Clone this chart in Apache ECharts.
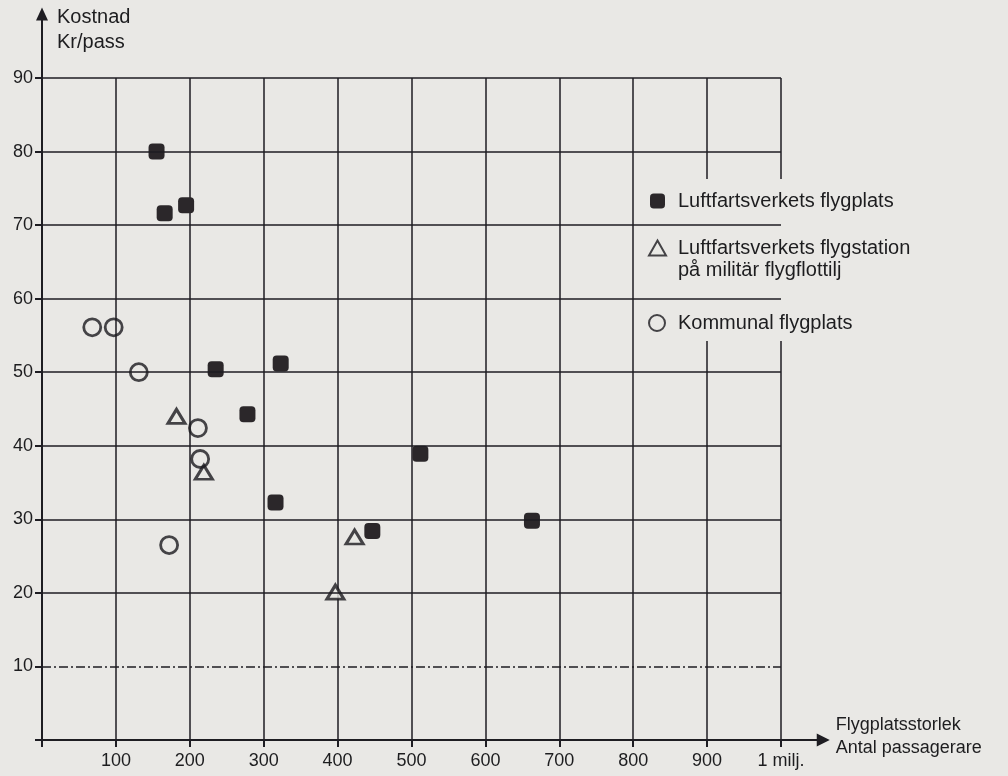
<!DOCTYPE html>
<html>
<head>
<meta charset="utf-8">
<script src="https://cdn.jsdelivr.net/npm/echarts@6/dist/echarts.min.js"></script>
<style>
  html, body { margin: 0; padding: 0; background: #e9e8e5; }
  #chart { width: 1008px; height: 776px; }
</style>
</head>
<body>
<div id="chart"></div>
<script>
// x = passagerare (tusental), y = kostnad kr/pass
const squareX = [155, 166, 195, 235, 278, 316, 323, 447, 512, 663];
const squareY = [80, 71.6, 72.7, 50.4, 44.3, 32.3, 51.2, 28.4, 38.9, 29.8];
const triangleX = [182, 219, 397, 423];
const triangleY = [44.0, 36.4, 20.1, 27.6];
const circleX = [68, 97, 131, 172, 211, 214];
const circleY = [56.1, 56.1, 50.0, 26.5, 42.4, 38.2];

const yGrid = [10, 20, 30, 40, 50, 60, 70, 80, 90];
const xLabels = { 1000: "1 milj." };

const seriesNames = [
  "Luftfartsverkets flygplats",
  "Luftfartsverkets flygstation\npå militär flygflottilj",
  "Kommunal flygplats",
];

const BG = "#e9e8e5";
const INK = "#1e1d22";
const FONT = "'Liberation Sans', Arial, sans-serif";

const zip = (xs, ys) => xs.map((x, i) => [x, ys[i]]);

const chart = echarts.init(document.getElementById("chart"));

chart.setOption({
  backgroundColor: BG,
  animation: false,
  grid: { left: 42, right: 227, top: 78, bottom: 36, outerBoundsMode: "none" },
  xAxis: {
    type: "value",
    min: 0,
    max: 1000,
    interval: 100,
    axisLine: { show: true, lineStyle: { color: INK, width: 2 } },
    axisTick: { show: true, length: 7, lineStyle: { color: INK, width: 2 } },
    axisLabel: {
      margin: 12,
      color: "#1d1d1f",
      fontFamily: FONT,
      fontSize: 18,
      formatter: (v) => (v === 0 ? "" : xLabels[v] || String(v)),
    },
    splitLine: { show: true, lineStyle: { color: INK, width: 1.5 } },
  },
  yAxis: {
    type: "value",
    min: 0,
    max: 90,
    interval: 10,
    axisLine: { show: true, lineStyle: { color: INK, width: 2 } },
    axisTick: { show: true, length: 7, lineStyle: { color: INK, width: 2 } },
    axisLabel: {
      margin: 9,
      color: "#1d1d1f",
      fontFamily: FONT,
      fontSize: 18,
      formatter: (v) => (v === 0 ? "" : String(v)),
    },
    splitLine: { show: false },
  },
  legend: [
    {
      data: [seriesNames[0]],
      left: 645,
      top: 186,
      itemWidth: 15,
      itemHeight: 15,
      textStyle: { fontFamily: FONT, fontSize: 20, color: "#1d1d1f", padding: [0, 0, 0, 8] },
    },
    {
      data: [seriesNames[1]],
      left: 643,
      top: 210,
      itemWidth: 17,
      itemHeight: 15,
      formatter: (name) => "\n" + name,
      textStyle: { fontFamily: FONT, fontSize: 20, lineHeight: 22, color: "#1d1d1f", padding: [0, 0, 0, 7] },
    },
    {
      data: [seriesNames[2]],
      left: 643,
      top: 308,
      itemWidth: 16,
      itemHeight: 16,
      textStyle: { fontFamily: FONT, fontSize: 20, color: "#1d1d1f", padding: [0, 0, 0, 8] },
    },
  ],
  series: [
    {
      name: seriesNames[0],
      type: "scatter",
      symbol: "roundRect",
      symbolSize: 16,
      itemStyle: { color: "#2b272a", opacity: 1 },
      emphasis: { disabled: true },
      data: zip(squareX, squareY),
      markLine: {
        silent: true,
        symbol: "none",
        animation: false,
        label: { show: false },
        data: yGrid.map((v) => ({
          yAxis: v,
          lineStyle: {
            color: INK,
            width: 1.5,
            type: v === 10 ? [9, 3, 2, 3] : "solid",
          },
        })),
      },
    },
    {
      name: seriesNames[1],
      type: "scatter",
      symbol: "triangle",
      symbolSize: [17, 14],
      itemStyle: { color: BG, borderColor: "#1a191e", borderWidth: 3 },
      emphasis: { disabled: true },
      data: zip(triangleX, triangleY),
    },
    {
      name: seriesNames[2],
      type: "scatter",
      symbol: "circle",
      symbolSize: 17,
      itemStyle: { color: "rgba(0,0,0,0)", borderColor: "#1a191e", borderWidth: 2.8 },
      emphasis: { disabled: true },
      data: zip(circleX, circleY),
    },
  ],
});

// axis arrows, axis titles and the blank patch behind the legend
const origin = chart.convertToPixel({ gridIndex: 0 }, [0, 0]);
const axisX = origin[0];
const axisY = origin[1];
const topY = chart.convertToPixel({ yAxisIndex: 0 }, 90);
const endX = chart.convertToPixel({ xAxisIndex: 0 }, 1000);
const tipY = chart.convertToPixel({ yAxisIndex: 0 }, 99.6);
const tipX = chart.convertToPixel({ xAxisIndex: 0 }, 1066);

chart.setOption({
  graphic: [
    {
      type: "rect",
      z: 3,
      shape: { x: 672, y: 179, width: 140, height: 162 },
      style: { fill: BG },
    },
    {
      type: "line",
      z: 3,
      shape: { x1: axisX, y1: topY, x2: axisX, y2: tipY + 10 },
      style: { stroke: INK, lineWidth: 2 },
    },
    {
      type: "polygon",
      z: 3,
      shape: { points: [[axisX, tipY], [axisX - 6, tipY + 13], [axisX + 6, tipY + 13]] },
      style: { fill: INK },
    },
    {
      type: "line",
      z: 3,
      shape: { x1: endX, y1: axisY, x2: tipX - 10, y2: axisY },
      style: { stroke: INK, lineWidth: 2 },
    },
    {
      type: "polygon",
      z: 3,
      shape: { points: [[tipX, axisY], [tipX - 13, axisY - 6.5], [tipX - 13, axisY + 6.5]] },
      style: { fill: INK },
    },
    {
      type: "text",
      z: 3,
      style: {
        x: axisX + 15,
        y: 5,
        text: "Kostnad\nKr/pass",
        font: "20px " + FONT,
        lineHeight: 25,
        fill: "#1d1d1f",
        verticalAlign: "top",
      },
    },
    {
      type: "text",
      z: 3,
      style: {
        x: tipX + 6,
        y: 714,
        text: "Flygplatsstorlek\nAntal passagerare",
        font: "18px " + FONT,
        lineHeight: 23,
        fill: "#1d1d1f",
        verticalAlign: "top",
      },
    },
  ],
});
</script>
</body>
</html>
